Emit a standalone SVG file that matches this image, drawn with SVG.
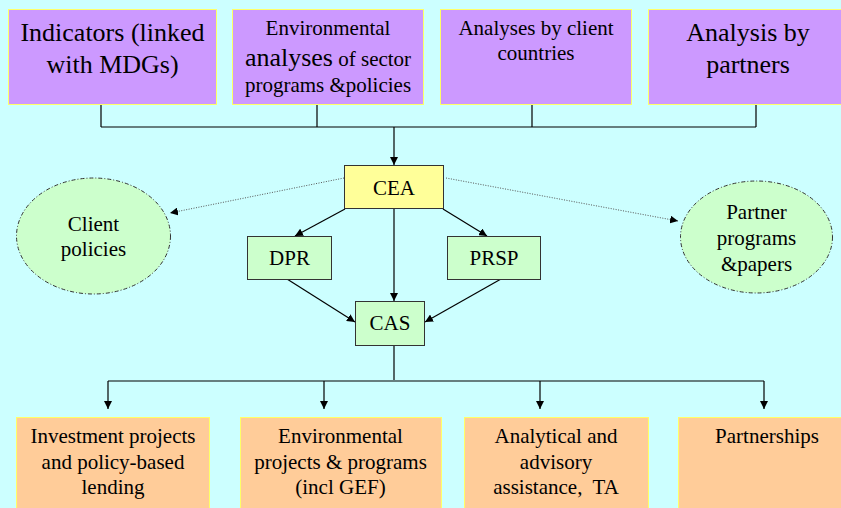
<svg xmlns="http://www.w3.org/2000/svg" width="841" height="508" viewBox="0 0 841 508" font-family="'Liberation Serif', 'DejaVu Serif', serif">
<style>
text{font-family:'Liberation Serif','DejaVu Serif',serif;fill:#000;text-anchor:middle}
.top{fill:#CC99FF;stroke:#FFFF66;stroke-width:1}
.bot{fill:#FFCC99;stroke:#FFFF66;stroke-width:1}
.grn{fill:#CCFFCC;stroke:#333;stroke-width:1}
.ell{fill:#CCFFCC;stroke:#333;stroke-width:1;stroke-dasharray:4 2 1 2}
.ln{fill:none;stroke:#000;stroke-width:1.2}
.dot{fill:none;stroke:#555;stroke-width:1;stroke-dasharray:1 1.5}
.s21{font-size:21px}.s20{font-size:20px}.s26{font-size:26px}
</style>
<defs>
<marker id="ah" viewBox="0 0 10 10" refX="10" refY="5" markerWidth="8" markerHeight="8" markerUnits="userSpaceOnUse" orient="auto">
<path d="M0,0 L10,5 L0,10 z" fill="#000"/>
</marker>
</defs>
<rect width="841" height="508" fill="#CCFFFF"/>
<g id="connectors">
<path class="ln" d="M101,105 V127 M317,105 V127 M532,105 V127 M756,105 V127 M101,127 H756"/>
<path class="ln" d="M394,127 V165" marker-end="url(#ah)"/>
<path class="ln" d="M345,209 L295,236" marker-end="url(#ah)"/>
<path class="ln" d="M443,209 L487,236" marker-end="url(#ah)"/>
<path class="ln" d="M394,208 V301" marker-end="url(#ah)"/>
<path class="ln" d="M287,279 L355,322" marker-end="url(#ah)"/>
<path class="ln" d="M501,279 L425,322" marker-end="url(#ah)"/>
<path class="dot" d="M344,178 L170,213" marker-end="url(#ah)"/>
<path class="dot" d="M446,178 L678,221" marker-end="url(#ah)"/>
<path class="ln" d="M394,345 V380"/>
<path class="ln" d="M108,381 H764"/>
<path class="ln" d="M108,381 V409" marker-end="url(#ah)"/>
<path class="ln" d="M324,381 V409" marker-end="url(#ah)"/>
<path class="ln" d="M540,381 V409" marker-end="url(#ah)"/>
<path class="ln" d="M764,381 V409" marker-end="url(#ah)"/>
</g>
<g id="indicators">
<rect class="top" x="8.5" y="9.5" width="208" height="95"/>
<text class="s26" x="112.5" y="41">Indicators (linked</text>
<text class="s26" x="112.5" y="73">with MDGs)</text>
</g>
<g id="env-analyses">
<rect class="top" x="232.5" y="9.5" width="191" height="95"/>
<text class="s21" x="328" y="35">Environmental</text>
<text x="328" y="66"><tspan font-size="26">analyses</tspan><tspan font-size="21"> of sector</tspan></text>
<text class="s21" x="328" y="92">programs &amp;policies</text>
</g>
<g id="client-analyses">
<rect class="top" x="440.5" y="9.5" width="191" height="95"/>
<text class="s21" x="536" y="35">Analyses by client</text>
<text class="s21" x="536" y="60">countries</text>
</g>
<g id="partner-analysis">
<rect class="top" x="648.5" y="9.5" width="200" height="95"/>
<text class="s26" x="748" y="41">Analysis by</text>
<text class="s26" x="748" y="73">partners</text>
</g>
<g id="cea">
<rect x="344.5" y="165.5" width="99" height="43" fill="#FFFF99" stroke="#333" stroke-width="1"/>
<text class="s21" x="394" y="195">CEA</text>
</g>
<g id="client-policies">
<ellipse class="ell" cx="93.5" cy="236" rx="77" ry="58"/>
<text class="s21" x="93.5" y="231">Client</text>
<text class="s21" x="93.5" y="256">policies</text>
</g>
<g id="partner-programs">
<ellipse class="ell" cx="756.5" cy="237" rx="76" ry="56"/>
<text class="s21" x="756.5" y="219">Partner</text>
<text class="s21" x="756.5" y="245">programs</text>
<text class="s21" x="756.5" y="271">&amp;papers</text>
</g>
<g id="dpr">
<rect class="grn" x="247.5" y="236.5" width="84" height="43"/>
<text class="s21" x="289.5" y="265">DPR</text>
</g>
<g id="prsp">
<rect class="grn" x="447.5" y="236.5" width="93" height="43"/>
<text class="s21" x="494" y="265">PRSP</text>
</g>
<g id="cas">
<rect class="grn" x="355.5" y="301.5" width="69" height="44"/>
<text class="s21" x="390" y="330">CAS</text>
</g>
<g id="investment">
<rect class="bot" x="16.5" y="417.5" width="193" height="100"/>
<text class="s21" x="113" y="443">Investment projects</text>
<text class="s21" x="113" y="469">and policy-based</text>
<text class="s21" x="113" y="494">lending</text>
</g>
<g id="env-projects">
<rect class="bot" x="240.5" y="417.5" width="201" height="100"/>
<text class="s21" x="340.5" y="443">Environmental</text>
<text class="s21" x="340.5" y="469">projects &amp; programs</text>
<text class="s21" x="340.5" y="494">(incl GEF)</text>
</g>
<g id="analytical">
<rect class="bot" x="464.5" y="417.5" width="184" height="100"/>
<text class="s21" x="556" y="443">Analytical and</text>
<text class="s21" x="556" y="469">advisory</text>
<text class="s21" x="556" y="494" xml:space="preserve">assistance,  TA</text>
</g>
<g id="partnerships">
<rect class="bot" x="678.5" y="417.5" width="180" height="100"/>
<text class="s21" x="767" y="443">Partnerships</text>
</g>
</svg>
